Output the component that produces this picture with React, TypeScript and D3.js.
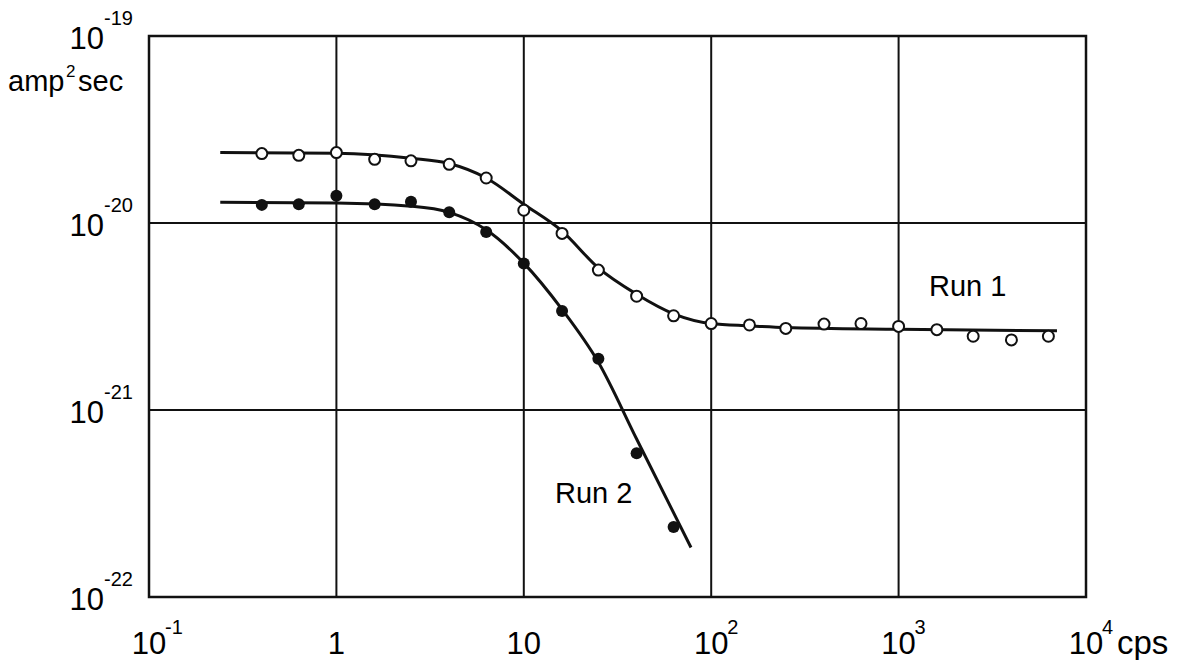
import React, { useEffect, useRef } from 'react';
import * as d3 from 'd3';

// measured points (frequency in cps, spectral density in amp^2 sec)
const freqs = [0.4, 0.63, 1, 1.6, 2.5, 4, 6.3, 10, 16, 25, 40, 63, 100, 160, 250, 400, 630, 1000, 1600, 2500, 4000, 6300];
const run1 = [2.35e-20, 2.3e-20, 2.38e-20, 2.19e-20, 2.15e-20, 2.06e-20, 1.74e-20, 1.17e-20, 8.8e-21, 5.6e-21, 4.06e-21, 3.19e-21, 2.9e-21, 2.85e-21, 2.73e-21, 2.88e-21, 2.9e-21, 2.8e-21, 2.69e-21, 2.48e-21, 2.37e-21, 2.48e-21];
const run2Freqs = [0.4, 0.63, 1, 1.6, 2.5, 4, 6.3, 10, 16, 25, 40, 63];
const run2 = [1.25e-20, 1.26e-20, 1.4e-20, 1.26e-20, 1.3e-20, 1.14e-20, 8.95e-21, 6.08e-21, 3.38e-21, 1.88e-21, 5.87e-22, 2.37e-22];

// fitted curves as drawn
const run1CurveFreq = [0.24, 1, 2.5, 4, 6.3, 10, 16, 25, 40, 63, 100, 160, 250, 1000, 7000];
const run1CurveVal = [2.38e-20, 2.36e-20, 2.22e-20, 2.08e-20, 1.74e-20, 1.26e-20, 9.05e-21, 5.75e-21, 4.16e-21, 3.27e-21, 2.9e-21, 2.82e-21, 2.76e-21, 2.7e-21, 2.65e-21];
const run2CurveFreq = [0.24, 1, 2.5, 4, 6.3, 10, 16, 25, 40, 78];
const run2CurveVal = [1.29e-20, 1.28e-20, 1.23e-20, 1.14e-20, 9.2e-21, 6.1e-21, 3.45e-21, 1.8e-21, 7.0e-22, 1.84e-22];

const xTicks = [0.1, 1, 10, 100, 1000, 10000];
const xTickBase = ['10', '1', '10', '10', '10', '10'];
const xTickExp = ['-1', '', '', '2', '3', '4'];
const yTicks = [1e-19, 1e-20, 1e-21, 1e-22];
const yTickExp = ['-19', '-20', '-21', '-22'];

export default function App() {
  const ref = useRef<SVGSVGElement>(null);

  useEffect(() => {
    if (!ref.current) return;
    const svg = d3.select(ref.current);
    svg.selectAll('*').remove();

    const x = d3.scaleLog().domain([0.1, 1e4]).range([149, 1086]);
    const y = d3.scaleLog().domain([1e-22, 1e-19]).range([597, 36]);
    const font = 'Liberation Sans, Arial, sans-serif';

    // grid
    const g = svg.append('g');
    g.selectAll('line.vx')
      .data(xTicks.slice(1, -1))
      .enter()
      .append('line')
      .attr('x1', d => x(d)).attr('x2', d => x(d))
      .attr('y1', y(1e-19)).attr('y2', y(1e-22))
      .attr('stroke', '#111').attr('stroke-width', 2);
    g.selectAll('line.hy')
      .data(yTicks.slice(1, -1))
      .enter()
      .append('line')
      .attr('x1', x(0.1)).attr('x2', x(1e4))
      .attr('y1', d => y(d)).attr('y2', d => y(d))
      .attr('stroke', '#111').attr('stroke-width', 2);
    g.append('rect')
      .attr('x', x(0.1)).attr('y', y(1e-19))
      .attr('width', x(1e4) - x(0.1)).attr('height', y(1e-22) - y(1e-19))
      .attr('fill', 'none').attr('stroke', '#111').attr('stroke-width', 2.5);

    // curves
    const line = d3.line<[number, number]>()
      .x(d => x(d[0]))
      .y(d => y(d[1]))
      .curve(d3.curveMonotoneX);
    svg.append('path')
      .attr('d', line(run1CurveFreq.map((f, i) => [f, run1CurveVal[i]] as [number, number])))
      .attr('fill', 'none').attr('stroke', '#111').attr('stroke-width', 3);
    svg.append('path')
      .attr('d', line(run2CurveFreq.map((f, i) => [f, run2CurveVal[i]] as [number, number])))
      .attr('fill', 'none').attr('stroke', '#111').attr('stroke-width', 3);

    // points
    svg.selectAll('circle.r1')
      .data(freqs.map((f, i) => [f, run1[i]]))
      .enter()
      .append('circle')
      .attr('cx', d => x(d[0])).attr('cy', d => y(d[1]))
      .attr('r', 5.5)
      .attr('fill', 'white').attr('stroke', '#111').attr('stroke-width', 2);
    svg.selectAll('circle.r2')
      .data(run2Freqs.map((f, i) => [f, run2[i]]))
      .enter()
      .append('circle')
      .attr('cx', d => x(d[0])).attr('cy', d => y(d[1]))
      .attr('r', 6)
      .attr('fill', '#111');

    // y tick labels
    yTicks.forEach((t, i) => {
      const ty = y(t);
      svg.append('text')
        .attr('x', 104).attr('y', ty + 13)
        .attr('text-anchor', 'end')
        .style('font-family', font).style('font-size', '31px')
        .text('10');
      svg.append('text')
        .attr('x', 104).attr('y', ty - 11)
        .style('font-family', font).style('font-size', '20px')
        .text(yTickExp[i]);
    });

    // y unit
    svg.append('text')
      .attr('x', 8).attr('y', 91)
      .style('font-family', font).style('font-size', '29px')
      .text('amp');
    svg.append('text')
      .attr('x', 66).attr('y', 77)
      .style('font-family', font).style('font-size', '17px')
      .text('2');
    svg.append('text')
      .attr('x', 78).attr('y', 91)
      .style('font-family', font).style('font-size', '29px')
      .text('sec');

    // x tick labels
    xTicks.forEach((t, i) => {
      const tx = x(t);
      svg.append('text')
        .attr('x', tx).attr('y', 654)
        .attr('text-anchor', 'middle')
        .style('font-family', font).style('font-size', '31px')
        .text(xTickBase[i]);
      if (xTickExp[i]) {
        svg.append('text')
          .attr('x', tx + 16).attr('y', 634)
          .style('font-family', font).style('font-size', '20px')
          .text(xTickExp[i]);
      }
    });
    svg.append('text')
      .attr('x', 1117).attr('y', 654)
      .style('font-family', font).style('font-size', '33px')
      .text('cps');

    // series labels
    svg.append('text')
      .attr('x', 929).attr('y', 296)
      .style('font-family', font).style('font-size', '29px')
      .text('Run 1');
    svg.append('text')
      .attr('x', 555).attr('y', 503)
      .style('font-family', font).style('font-size', '29px')
      .text('Run 2');
  }, []);

  return (
    <svg
      ref={ref}
      width={1189}
      height={660}
      style={{ position: 'absolute', left: 0, top: 0, background: 'white' }}
    />
  );
}
